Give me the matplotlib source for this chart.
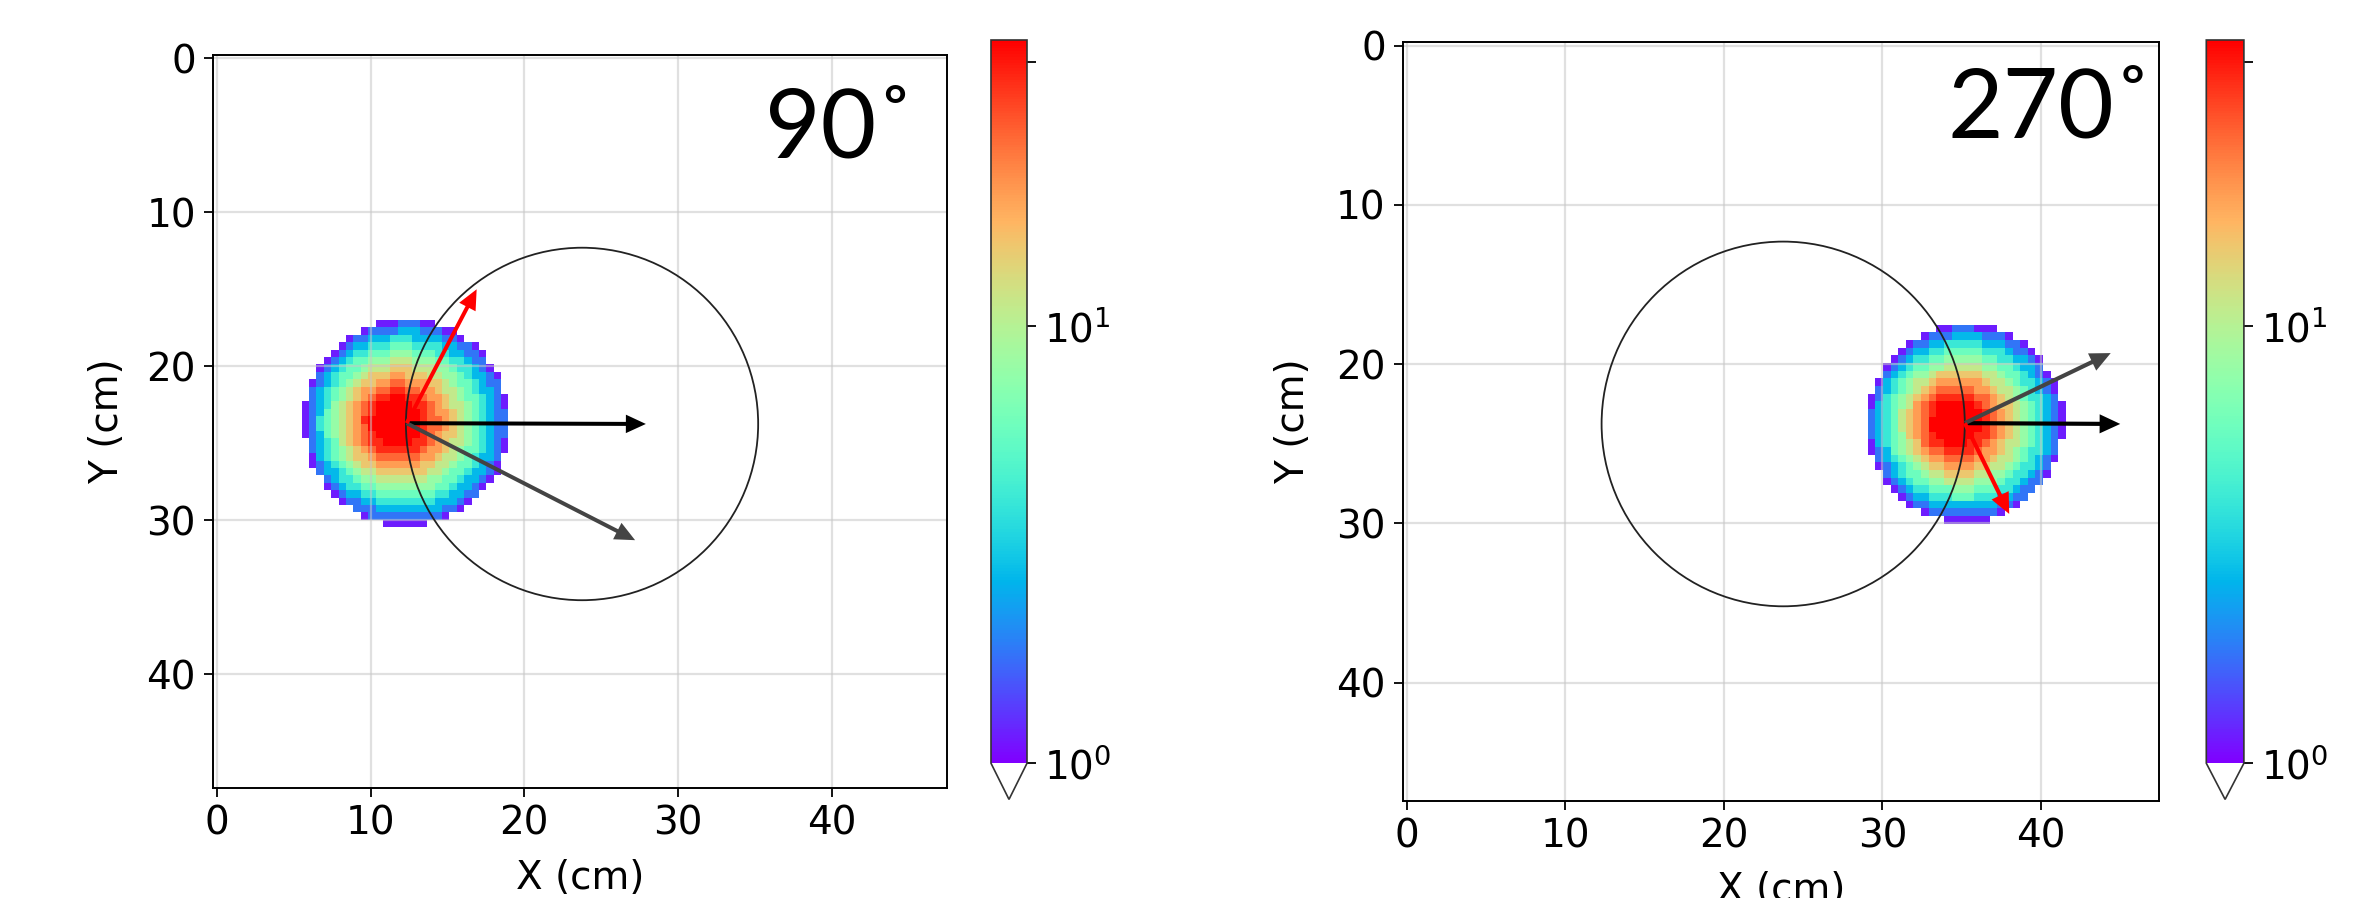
import numpy as np
import matplotlib
matplotlib.use("Agg")
import matplotlib.pyplot as plt
from matplotlib.colors import LogNorm
from matplotlib.patches import Circle

# ---- data ------------------------------------------------------------------
angle_labels = ["90˚", "270˚"]
cell_size = 0.48          # cm per image cell
n_cells = 100

# ring values (dose) from peak (ring 0) to disc edge (ring 14)
ring_values = [80, 70, 58, 46, 36, 27, 20, 15, 11, 8.0, 5.8, 4.0, 2.7, 1.8, 1.15]

source_x = [12.35, 35.2]
source_y = [23.7, 23.7]
peak_shift_x = [-0.9, -0.8]     # hot spot sits left of the source
disc_radius = [6.7, 6.2]

circle_center = (23.75, 23.75)
circle_radius = 11.45

black_end_x = [27.9, 45.0]
black_end_y = [23.75, 23.75]
gray_end_x = [27.2, 44.4]
gray_end_y = [31.3, 19.3]
red_end_x = [16.9, 38.0]
red_end_y = [15.0, 29.4]

vmin, vmax = 1.0, 44.9
cbar_ticks = [1, 10, 40]
cbar_ticklabels = [r"$\mathdefault{10^{0}}$", r"$\mathdefault{10^{1}}$", ""]

# ---- layout (figure fractions) ----------------------------------------------
W, H = 2373, 898
ax_rects = [[213 / W, (H - 788) / H, 733.6 / W, 733 / H],
            [1402.7 / W, (H - 800.6) / H, 756.4 / W, 758.4 / H]]
cax_rects = [[991 / W, (H - 799.4) / H, 36 / W, 759.4 / H],
             [2206.3 / W, (H - 799.4) / H, 37.6 / W, 759.4 / H]]
text_pos = [(914.5 / W, (H - 158) / H), (2153 / W, (H - 138) / H)]
xlabel_y = [-0.123, -0.118]

FS = 28
plt.rcParams["font.family"] = "DejaVu Sans"

fig = plt.figure(figsize=(W / 100, H / 100), dpi=100)

centers = np.arange(n_cells) * cell_size
gx, gy = np.meshgrid(centers, centers)

cmap = plt.get_cmap("rainbow").copy()
cmap.set_under("white")
cmap.set_bad((1, 1, 1, 0))

for i in range(2):
    ax = fig.add_axes(ax_rects[i])
    cax = fig.add_axes(cax_rects[i])

    # build dose map: ring index from hot spot, scaled to the disc edge
    sx, sy, R = source_x[i], source_y[i], disc_radius[i]
    px, py = sx + peak_shift_x[i], sy
    dx, dy = gx - px, gy - py
    r = np.hypot(dx, dy) + 1e-9
    ux, uy = dx / r, dy / r
    cx, cy = px - sx, py - sy
    cu = cx * ux + cy * uy
    t = -cu + np.sqrt(cu ** 2 - (cx ** 2 + cy ** 2) + R ** 2)
    ring = np.clip(np.round(r / t * (len(ring_values) - 1)).astype(int), 0, len(ring_values) - 1)
    dose = np.array(ring_values)[ring]
    dose[np.hypot(gx - sx, gy - sy) > R] = np.nan

    half = cell_size / 2
    im = ax.imshow(dose, cmap=cmap, norm=LogNorm(vmin=vmin, vmax=vmax),
                   extent=[-half, centers[-1] + half, centers[-1] + half, -half],
                   interpolation="nearest", aspect="auto")
    ax.set_xlim(-0.24, 47.45)
    ax.set_ylim(47.4, -0.22)

    ax.add_patch(Circle(circle_center, circle_radius, fill=False, ec="#222222", lw=1.3, zorder=3))

    for ex, ey, col in [(black_end_x[i], black_end_y[i], "black"),
                        (gray_end_x[i], gray_end_y[i], "#444444"),
                        (red_end_x[i], red_end_y[i], "red")]:
        ax.arrow(sx, sy, ex - sx, ey - sy, width=0.26, head_width=1.2, head_length=1.3,
                 length_includes_head=True, color=col, lw=0, zorder=4)

    ax.set_xticks([0, 10, 20, 30, 40])
    ax.set_yticks([0, 10, 20, 30, 40])
    ax.grid(True, color="#c8c8c8", alpha=0.55, lw=1.6)
    ax.tick_params(labelsize=FS, length=6.2, width=1.3, pad=6)
    for s in ax.spines.values():
        s.set_linewidth(1.4)
    ax.set_xlabel("X (cm)", fontsize=FS, va="center")
    ax.set_ylabel("Y (cm)", fontsize=FS, va="center")
    ax.xaxis.set_label_coords(0.5, xlabel_y[i])
    ax.yaxis.set_label_coords(-0.145, 0.5)

    cb = fig.colorbar(im, cax=cax, extend="min")
    cb.minorticks_off()
    cb.set_ticks(cbar_ticks, labels=cbar_ticklabels)
    cb.ax.tick_params(labelsize=FS, length=6.2, width=1.3, pad=6)
    cb.outline.set_linewidth(1.2)
    cb.outline.set_edgecolor("#333333")

    fig.text(text_pos[i][0], text_pos[i][1], angle_labels[i], fontsize=69,
             family=["Lato", "DejaVu Sans"], ha="right", va="baseline")

fig.savefig("out.png", dpi=100)
